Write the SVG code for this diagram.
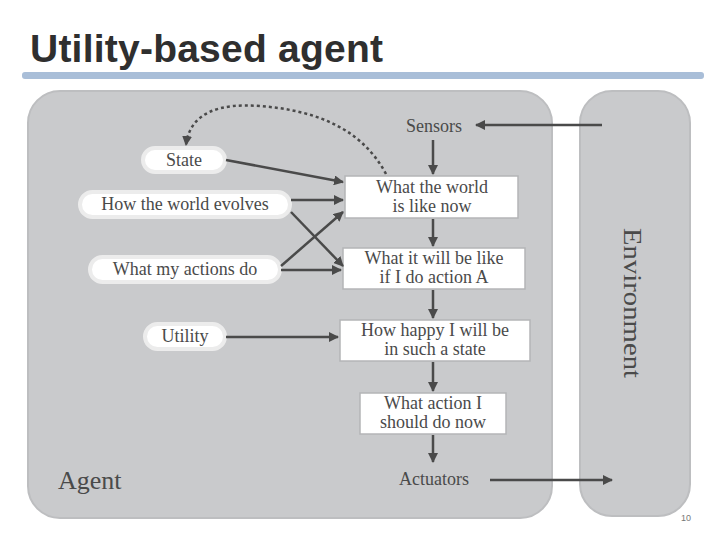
<svg xmlns="http://www.w3.org/2000/svg" width="720" height="540" viewBox="0 0 720 540">
<defs>
<marker id="ah" viewBox="0 0 10 10" refX="9" refY="5" markerWidth="4" markerHeight="4" orient="auto" markerUnits="strokeWidth">
<path d="M0,0 L10,5 L0,10 z" fill="#4a4a4a"/>
</marker>
</defs>
<style>
.lbl{font-family:"Liberation Serif","Times New Roman",serif;font-size:18px;fill:#4a4a4a;text-anchor:middle}
.oval{fill:#ffffff;stroke:#ececec;stroke-width:4}
.box{fill:#ffffff;stroke:#b4b5b7;stroke-width:1.5}
.con{fill:none;stroke:#4a4a4a;stroke-width:2.5;marker-end:url(#ah)}
</style>
<rect width="720" height="540" fill="#ffffff"/>
<text x="30" y="62" font-family="Liberation Sans,Arial,sans-serif" font-weight="bold" font-size="39" fill="#2f2f2f" textLength="353">Utility-based agent</text>
<rect x="22" y="72" width="682" height="7" rx="3" fill="#a9bed8"/>
<g id="agent">
<rect x="28" y="91" width="524" height="427" rx="32" fill="#c9cacc" stroke="#bdbec0" stroke-width="2"/>
<text x="58" y="489" font-family="Liberation Serif,Times New Roman,serif" font-size="26" fill="#4a4a4a">Agent</text>
</g>
<g id="environment">
<rect x="580" y="91" width="110" height="425" rx="32" fill="#c9cacc" stroke="#bdbec0" stroke-width="2"/>
<text class="lbl" transform="translate(624,303) rotate(90)" style="font-size:26px" textLength="150" lengthAdjust="spacingAndGlyphs">Environment</text>
</g>
<g id="sensors"><text class="lbl" x="434" y="132">Sensors</text></g>
<g id="actuators"><text class="lbl" x="434" y="485">Actuators</text></g>
<g id="state"><rect class="oval" x="143" y="148" width="82" height="24" rx="12"/><text class="lbl" x="184" y="166">State</text></g>
<g id="evolves"><rect class="oval" x="80" y="192" width="210" height="25" rx="12.5"/><text class="lbl" x="185" y="210">How the world evolves</text></g>
<g id="actions"><rect class="oval" x="90" y="257" width="190" height="25" rx="12.5"/><text class="lbl" x="185" y="275">What my actions do</text></g>
<g id="utility"><rect class="oval" x="145" y="324" width="80" height="25" rx="12.5"/><text class="lbl" x="185" y="342">Utility</text></g>
<g id="now"><rect class="box" x="345" y="176" width="173" height="42"/><text class="lbl" x="432" y="193">What the world</text><text class="lbl" x="432" y="212">is like now</text></g>
<g id="willbe"><rect class="box" x="343" y="248" width="182" height="41"/><text class="lbl" x="434" y="264">What it will be like</text><text class="lbl" x="434" y="283">if I do action A</text></g>
<g id="happy"><rect class="box" x="340" y="320" width="190" height="41"/><text class="lbl" x="435" y="336">How happy I will be</text><text class="lbl" x="435" y="355">in such a state</text></g>
<g id="action"><rect class="box" x="360" y="393" width="146" height="41"/><text class="lbl" x="433" y="409">What action I</text><text class="lbl" x="433" y="428">should do now</text></g>
<g id="connectors">
<path class="con" d="M602,125 L476,125"/>
<path class="con" d="M433,140 L433,174"/>
<path class="con" d="M433,219 L433,246"/>
<path class="con" d="M433,290 L433,318"/>
<path class="con" d="M433,362 L433,391"/>
<path class="con" d="M433,435 L433,462"/>
<path class="con" d="M490,480 L612,480"/>
<path class="con" d="M226,160 L343,182"/>
<path class="con" d="M291,200 L343,200"/>
<path class="con" d="M281,266 L343,212"/>
<path class="con" d="M291,212 L343,266"/>
<path class="con" d="M281,270 L341,270"/>
<path class="con" d="M226,337 L338,337"/>
<path class="con" stroke-dasharray="3,3" d="M386,174 C360,125 310,110 260,106 C220,103 190,112 186,145"/>
</g>
<text x="686" y="521" font-family="Liberation Sans,Arial,sans-serif" font-size="9" fill="#777" text-anchor="middle">10</text>
</svg>
